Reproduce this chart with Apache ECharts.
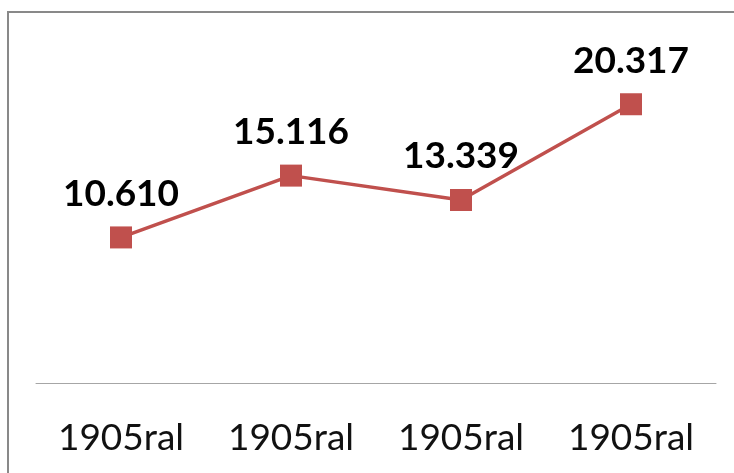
<!DOCTYPE html>
<html>
<head>
<meta charset="utf-8">
<script src="https://cdn.jsdelivr.net/npm/echarts@6/dist/echarts.min.js"></script>
<style>
  html, body { margin: 0; padding: 0; background: #fff; }
  #chart { width: 734px; height: 473px; }
</style>
</head>
<body>
<div id="chart"></div>
<script>
var categories = ['1905ral', '1905ral', '1905ral', '1905ral'];
var values = [10.610, 15.116, 13.339, 20.317];

var chart = echarts.init(document.getElementById('chart'));

chart.setOption({
    animation: false,
    backgroundColor: '#ffffff',
    graphic: [{
        type: 'rect',
        shape: { x: 8, y: 12, width: 800, height: 600 },
        style: { fill: 'none', stroke: '#898989', lineWidth: 2 },
        silent: true
    }],
    grid: { left: 36, right: 18, top: 40, bottom: 90 },
    xAxis: {
        type: 'category',
        data: categories,
        boundaryGap: true,
        axisLine: { lineStyle: { color: '#a6a6a6', width: 1 } },
        axisTick: { show: false },
        axisLabel: {
            color: '#111',
            fontFamily: 'Lato',
            fontSize: 37,
            margin: 37
        }
    },
    yAxis: {
        type: 'value',
        min: 0,
        max: 25,
        show: false,
        splitLine: { show: false }
    },
    series: [{
        type: 'line',
        data: values,
        symbol: 'rect',
        symbolSize: 22,
        lineStyle: { color: '#c0504d', width: 3.5 },
        itemStyle: { color: '#c0504d' },
        label: {
            show: true,
            position: 'top',
            distance: 14,
            color: '#000',
            fontFamily: 'Lato',
            fontWeight: 'bold',
            fontSize: 37,
            formatter: function (p) { return p.value.toFixed(3); }
        }
    }]
});
</script>
</body>
</html>
